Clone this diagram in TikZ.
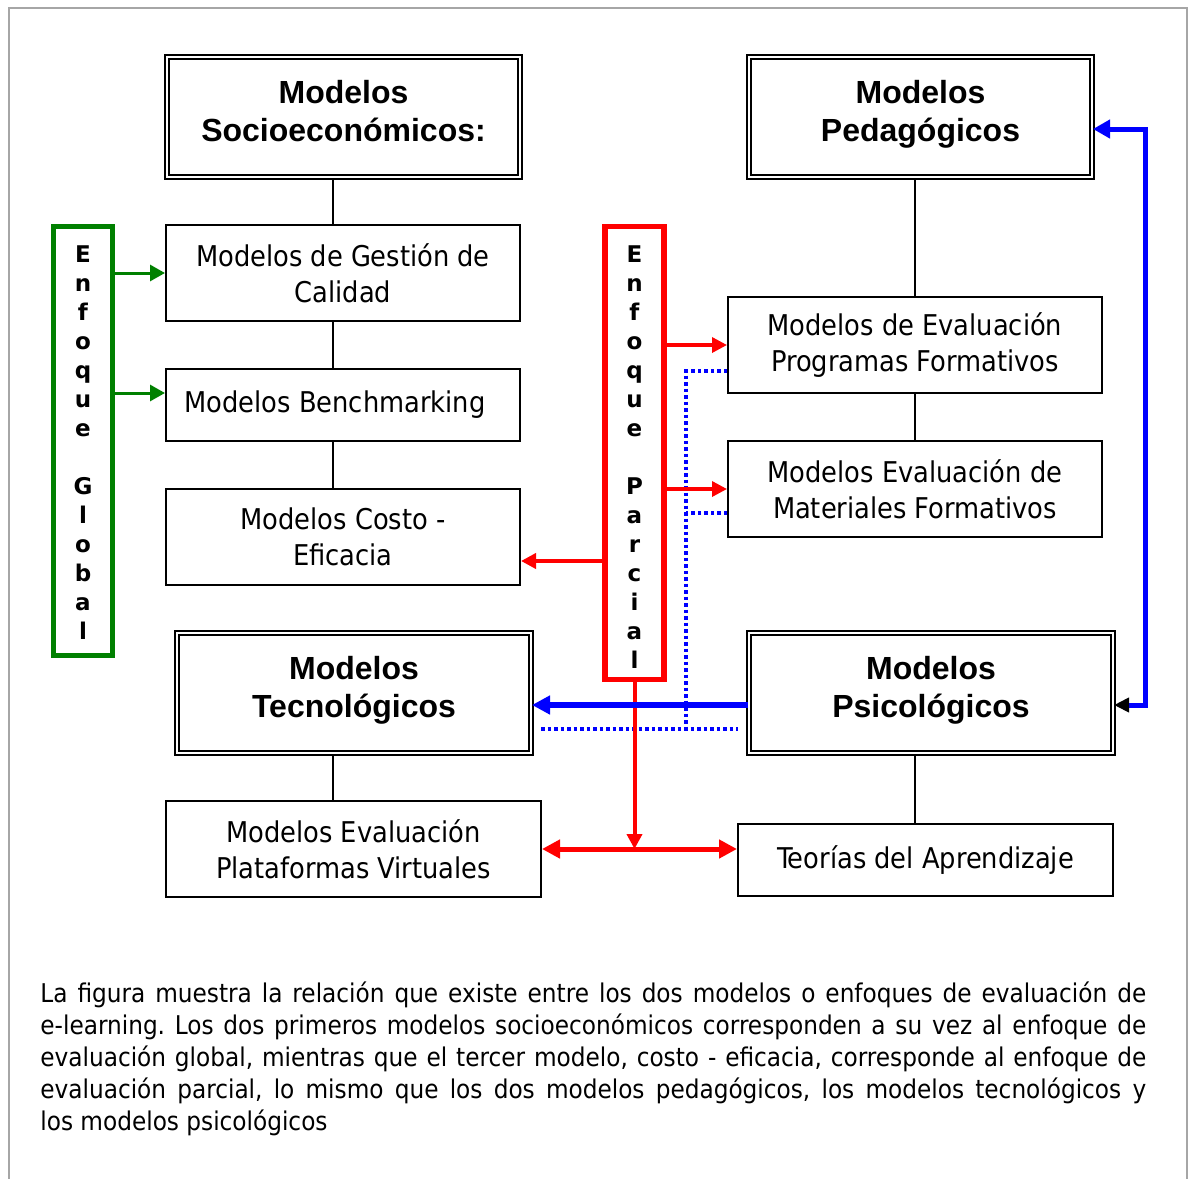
\documentclass[tikz,border=0pt]{standalone}
\usepackage{fontspec}
\setmainfont{DejaVu Sans Condensed}
\newfontfamily\headfont{Liberation Sans}
\newfontfamily\sidefont{DejaVu Sans}
\usetikzlibrary{arrows.meta,calc}

\begin{document}
\begin{tikzpicture}[x=0.5pt,y=-0.5pt,
  plainbox/.style={draw, line width=1pt, inner sep=0pt, align=center,
    font=\fontsize{14.3}{18}\selectfont, minimum width=177pt, minimum height=48pt},
  headbox/.style={draw, line width=1pt, double, double distance=1pt, inner sep=0pt,
    align=center, text depth=6pt, font=\headfont\bfseries\fontsize{16}{19}\selectfont, minimum height=60pt},
  sidebox/.style={draw, line width=2.75pt, inner sep=0pt},
  sidetext/.style={inner sep=0pt, align=center,
    font=\sidefont\bfseries\fontsize{11.5}{14.5}\selectfont},
  link/.style={line width=1pt},
  garrow/.style={draw=green!50!black, line width=1.5pt, -{Triangle[length=7.5pt,width=8pt]}},
  rarrow/.style={draw=red, line width=1.7pt, -{Triangle[length=7.5pt,width=7.5pt]}},
  rboth/.style={draw=red, line width=2.5pt, {Triangle[length=9pt,width=9pt]}-{Triangle[length=9pt,width=9pt]}},
  bthick/.style={draw=blue, line width=3pt, -{Triangle[length=9pt,width=9pt]}},
  bside/.style={draw=blue, line width=2.5pt},
  bdot/.style={draw=blue, line width=1.75pt, dash pattern=on 1.75pt off 1.5pt},
]
\useasboundingbox (0,0) rectangle (1191,1179);

% outer frame
\draw[gray!70, line width=1pt] (9,1179) -- (9,8) -- (1187,8) -- (1187,1179);

% headline models
\node[headbox, minimum width=176.5pt] (socio) at (343.5,117) {Modelos\\Socioeconómicos:};
\node[headbox, minimum width=171.5pt] (pedag) at (920.5,117) {Modelos\\Pedagógicos};
\node[headbox, minimum width=177pt] (tecno) at (354,693) {Modelos\\Tecnológicos};
\node[headbox, minimum width=182pt] (psico) at (931,693) {Modelos\\Psicológicos};

% sub-models
\node[plainbox] (gest) at (343,273) {Modelos de Gestión de\\Calidad};
\node[plainbox, minimum height=36pt] (bench) at (343,405) {\hspace*{-8pt}Modelos Benchmarking};
\node[plainbox] (costo) at (343,537) {Modelos Costo -\\Eficacia};
\node[plainbox, minimum width=187pt] (evalprog) at (915,345) {Modelos de Evaluación\\Programas Formativos};
\node[plainbox, minimum width=187pt] (evalmat) at (915,489) {Modelos Evaluación de\\Materiales Formativos};
\node[plainbox, minimum width=187.5pt] (plat) at (353.5,849) {Modelos Evaluación\\Plataformas Virtuales};
\node[plainbox, minimum width=187.5pt, minimum height=36pt] (teor) at (925.5,860) {Teorías del Aprendizaje};

% approach boxes with their vertical titles
\node[sidebox, draw=green!50!black, minimum width=29.5pt, minimum height=214.5pt] (green) at (83,441) {};
\node[sidetext] (greentext) at (83,442.5)
  {E\\n\\f\\o\\q\\u\\e\\\mbox{}\\G\\l\\o\\b\\a\\l};
\node[sidebox, draw=red, minimum width=29.5pt, minimum height=226.5pt] (red) at (634.5,453) {};
\node[sidetext] (redtext) at (634.5,457.5)
  {E\\n\\f\\o\\q\\u\\e\\\mbox{}\\P\\a\\r\\c\\i\\a\\l};

% helper columns
\coordinate (lx) at (333,0);
\coordinate (rx) at (915,0);
\coordinate (bx) at (1145,0);
\coordinate (dv) at (686,0);
\coordinate (dotl) at (541,729);
\coordinate (dotr) at (738,729);

% hierarchy links
\draw[link] (socio.south -| lx) -- (gest.north -| lx);
\draw[link] (gest.south -| lx) -- (bench.north -| lx);
\draw[link] (bench.south -| lx) -- (costo.north -| lx);
\draw[link] (tecno.south -| lx) -- (plat.north -| lx);
\draw[link] (pedag.south -| rx) -- (evalprog.north -| rx);
\draw[link] (evalprog.south -| rx) -- (evalmat.north -| rx);
\draw[link] (psico.south -| rx) -- (teor.north -| rx);

% global approach
\draw[garrow] (green.east |- gest.west) -- (gest.west);
\draw[garrow] ([yshift=6pt]bench.west -| green.east) -- ([yshift=6pt]bench.west);

% dotted relations
\draw[bdot] ([yshift=-13pt]evalprog.west) -- ([yshift=-13pt]evalprog.west -| dv) -- (dv |- dotl);
\draw[bdot] ([yshift=-12pt]evalmat.west) -- ([yshift=-12pt]evalmat.west -| dv);
\draw[bdot] (dotl) -- (dotr);

% partial approach
\draw[rarrow] (red.east |- evalprog.west) -- (evalprog.west);
\draw[rarrow] (red.east |- evalmat.west) -- (evalmat.west);
\draw[rarrow, line width=2pt] ([yshift=-12pt]costo.east -| red.west) -- ([yshift=-12pt]costo.east);
\draw[rarrow, line width=2pt] (red.south) -- (red.south |- plat.east);
\draw[rboth] (plat.east) -- (plat.east -| teor.west);

% psychological models
\draw[bthick] ([yshift=-6pt]psico.west) -- ([yshift=-6pt]psico.west -| tecno.east);
\draw[bside, {Triangle[color=black,length=7.5pt,width=7pt]}-{Triangle[length=8.5pt,width=9pt]}]
  ([yshift=-6pt]psico.east) -- ([yshift=-6pt]psico.east -| bx)
  -- ([yshift=-6pt]pedag.east -| bx) -- ([yshift=-6pt]pedag.east);

% caption
\node[anchor=base west, inner sep=0pt, text width=553pt, align=justify,
  font=\fontsize{12.9}{16}\selectfont] (caption) at (40,1002)
  {\frenchspacing\hyphenpenalty=10000 \exhyphenpenalty=10000
   La figura muestra la relación que existe entre los dos modelos o enfoques de evaluación de\linebreak
   e-learning. Los dos primeros modelos socioeconómicos corresponden a su vez al enfoque de\linebreak
   evaluación global, mientras que el tercer modelo, costo - eficacia, corresponde al enfoque de\linebreak
   evaluación parcial, lo mismo que los dos modelos pedagógicos, los modelos tecnológicos y\linebreak
   los modelos psicológicos};
\end{tikzpicture}
\end{document}
